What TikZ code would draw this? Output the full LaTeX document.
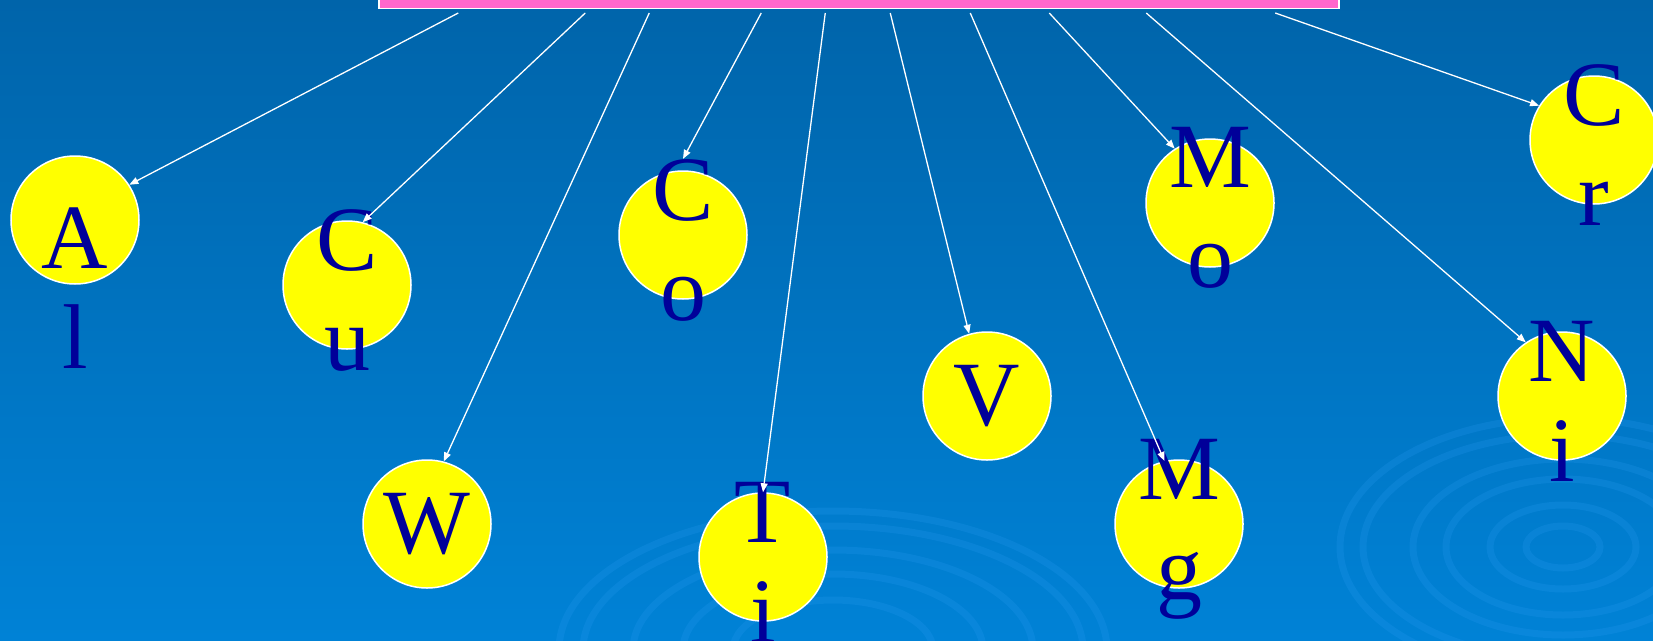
\documentclass[tikz,border=0pt]{standalone}
\usepackage{fontspec}
\setmainfont{Liberation Serif}
\usetikzlibrary{arrows.meta}
\definecolor{bgtop}{HTML}{0064AA}
\definecolor{bgbottom}{HTML}{0082D6}
\definecolor{ripple}{HTML}{2A9CF2}
\definecolor{barpink}{HTML}{FF66CC}
\definecolor{metalyellow}{HTML}{FFFF00}
\definecolor{letterblue}{HTML}{000099}
\tikzset{
  bar/.style={rectangle, draw=white, line width=1.5pt, fill=barpink},
  metal/.style={circle, draw=white, line width=1.5pt, fill=metalyellow,
    minimum size=128pt, inner sep=0pt},
  symbol/.style={text=letterblue, font=\fontsize{92}{100}\selectfont,
    align=center, inner sep=0pt},
  stack/.style={symbol, yshift=-5pt},
  link/.style={-{Triangle[length=9pt,width=7pt]}, line width=1.3pt, white},
  ring/.style={draw=ripple, line width=7pt, opacity=0.22},
}

\begin{document}
\begin{tikzpicture}[x=1pt, y=-1pt]

  \useasboundingbox (0,0) rectangle (1653,640);
  \shade[top color=bgtop, bottom color=bgbottom] (0,0) rectangle (1653,640);

  % water ripples in the background
  \foreach \rx/\ry in {223/129, 200/112, 150/88, 117/68, 73/42, 37/21}
    \path[ring] (1563,547) ellipse [x radius=\rx, y radius=\ry];
  \foreach \rx/\ry in {274/139, 250/124, 200/100, 150/76, 100/50}
    \path[ring] (833,650) ellipse [x radius=\rx, y radius=\ry];

  \node[bar, minimum width=960pt, minimum height=40pt, anchor=south]
    (elements) at (859,9) {};

  \node[metal, label={[symbol, yshift=-68pt]center:A\\l}] (al) at (75,220) {};
  \node[metal, label={[stack]center:C\\u}] (cu) at (347,285) {};
  \node[metal, label={[symbol]center:W}] (w) at (427,524) {};
  \node[metal, label={[stack, name=cosym]center:C\\o}] (co) at (683,235) {};
  \node[metal, label={[stack]center:T\\i}] (ti) at (763,557) {};
  \node[metal, label={[symbol]center:V}] (v) at (987,396) {};
  \node[metal, label={[stack]center:M\\g}] (mg) at (1179,524) {};
  \node[metal, label={[stack]center:M\\o}] (mo) at (1210,203) {};
  \node[metal, label={[stack]center:N\\i}] (ni) at (1562,396) {};
  \node[metal, label={[stack]center:C\\r}] (cr) at (1594,140) {};

  \foreach \dx/\target in {80/al.33, 207/cu.76, 271/w.75, 383/cosym.north,
      447/ti.north, 512/v.106, 592/mg.103, 671/mo.123, 768/ni.124, 897/cr.148}
    \draw[link] ([xshift=\dx pt, yshift=-4pt]elements.south west) -- (\target);

\end{tikzpicture}
\end{document}
